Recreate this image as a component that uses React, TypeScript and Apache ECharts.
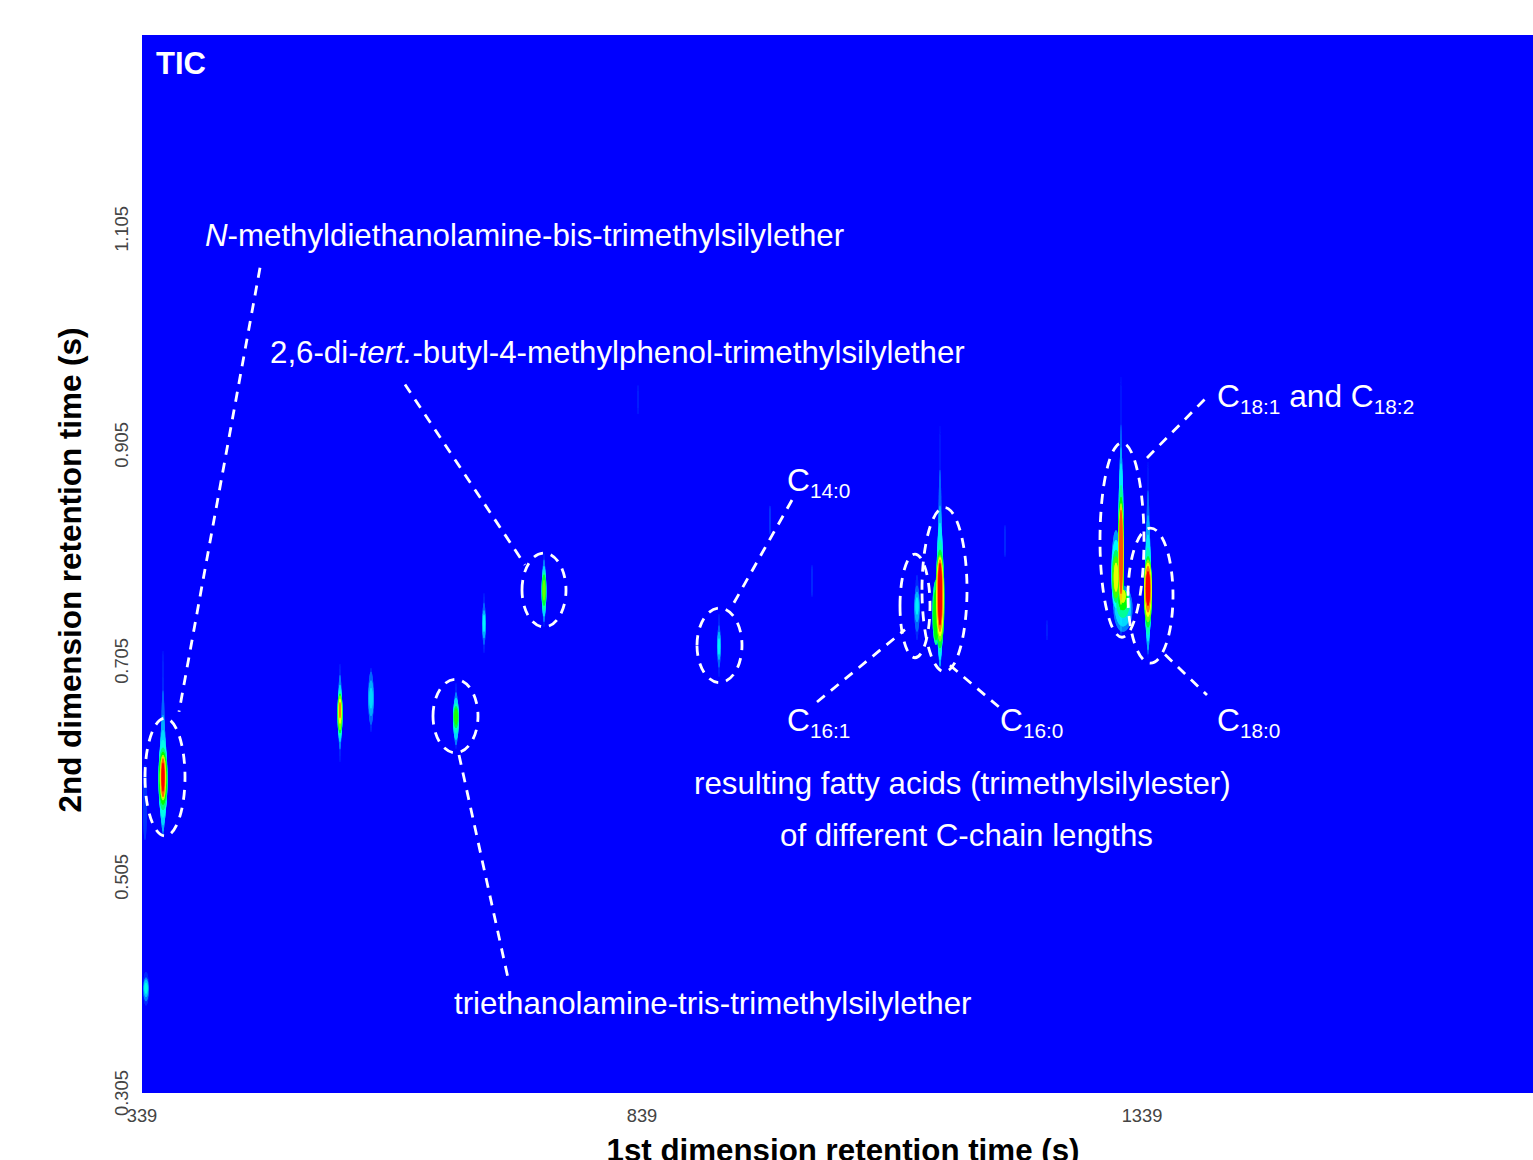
import React, { useEffect, useRef } from "react";
import * as echarts from "echarts";

// axis ticks
const xTicks = [339, 839, 1339];
const yTicks = [0.305, 0.505, 0.705, 0.905, 1.105];

// colour ramp of the intensity scale
const jetRamp = ["#0000ff", "#00a0ff", "#00ffff", "#00ff80", "#00ff00", "#a0ff00", "#ffff00", "#ff8000", "#ff0000"];

// intensity contours of each peak: [1st dim (s), 2nd dim top (s), 2nd dim bottom (s), half-width (s), level]
const peakNMethyl = [
  [360, 0.715, 0.542, 1, 0.03], [360, 0.678, 0.543, 2, 0.08], [360, 0.655, 0.547, 3, 0.14], [360, 0.641, 0.553, 4, 0.2],
  [360, 0.632, 0.56, 4.5, 0.27], [360, 0.625, 0.567, 4.5, 0.38], [360, 0.621, 0.572, 4, 0.5], [360, 0.618, 0.576, 3.2, 0.65],
  [360, 0.616, 0.578, 2.5, 0.78], [360, 0.615, 0.579, 2, 0.9], [360, 0.611, 0.584, 1.4, 1],
];
const peakB = [
  [537, 0.703, 0.611, 1, 0.03], [537, 0.692, 0.623, 1.8, 0.1], [537, 0.683, 0.63, 2.2, 0.2], [537, 0.678, 0.634, 2.6, 0.3],
  [537, 0.675, 0.638, 2.4, 0.45], [537, 0.673, 0.641, 1.9, 0.6], [537, 0.67, 0.647, 1.5, 0.75], [537, 0.667, 0.652, 1, 0.87],
];
const peakC = [
  [568, 0.699, 0.639, 1.5, 0.03], [568, 0.695, 0.646, 2.7, 0.08], [568, 0.687, 0.654, 2.6, 0.14], [568, 0.68, 0.661, 1.7, 0.2],
];
const peakTriethanolamine = [
  [653, 0.685, 0.623, 1, 0.03], [653, 0.676, 0.627, 2.2, 0.1], [653, 0.671, 0.632, 3, 0.2], [653, 0.666, 0.638, 3, 0.3],
  [653, 0.663, 0.643, 2.4, 0.42], [653, 0.661, 0.646, 1.7, 0.52],
];
const peakE = [
  [681, 0.768, 0.712, 1, 0.03], [681, 0.759, 0.72, 1.7, 0.08], [681, 0.752, 0.726, 1.7, 0.15], [681, 0.748, 0.732, 1.1, 0.24],
];
const peakBHT = [
  [741, 0.805, 0.736, 1, 0.03], [741, 0.799, 0.741, 1.8, 0.1], [741, 0.793, 0.746, 2.3, 0.2], [741, 0.788, 0.751, 2.4, 0.32],
  [741, 0.785, 0.756, 2, 0.45], [741, 0.78, 0.761, 1.4, 0.58],
];
const peakC140 = [
  [916, 0.749, 0.69, 1, 0.03], [916, 0.738, 0.699, 1.7, 0.08], [916, 0.732, 0.706, 1.7, 0.15], [916, 0.726, 0.711, 1.1, 0.23],
];
const peakC161 = [
  [1114, 0.785, 0.724, 2, 0.03], [1114, 0.775, 0.732, 2.7, 0.08], [1114, 0.769, 0.741, 2.4, 0.15], [1114, 0.764, 0.748, 1.5, 0.23],
];
const peakC160 = [
  [1137, 0.924, 0.701, 1, 0.02], [1137, 0.882, 0.699, 1.8, 0.08], [1137, 0.849, 0.7, 2.7, 0.14], [1137, 0.833, 0.706, 3.5, 0.22],
  [1137, 0.817, 0.713, 4, 0.32], [1137, 0.808, 0.717, 4.5, 0.45], [1137, 0.803, 0.723, 4, 0.6], [1137, 0.801, 0.728, 3.5, 0.75],
  [1137, 0.799, 0.732, 2.8, 0.87], [1137, 0.796, 0.738, 2, 1], [1133, 0.78, 0.72, 3.6, 0.35], [1133, 0.771, 0.724, 2.7, 0.5],
];
const peakC181 = [
  [1318, 0.97, 0.729, 1, 0.02], [1318, 0.924, 0.729, 1.4, 0.08], [1318, 0.903, 0.732, 2.2, 0.14], [1318, 0.888, 0.738, 2.8, 0.22],
  [1318, 0.868, 0.748, 3, 0.35], [1318, 0.857, 0.752, 3, 0.5], [1318, 0.851, 0.757, 2.6, 0.65], [1318, 0.848, 0.761, 2.2, 0.8],
  [1318, 0.845, 0.767, 1.8, 0.92],
];
const peakC182 = [
  [1313, 0.826, 0.748, 4.5, 0.12], [1313, 0.817, 0.754, 4.5, 0.25], [1313, 0.808, 0.759, 4, 0.4], [1313, 0.802, 0.763, 3.6, 0.55],
  [1313, 0.796, 0.769, 2.2, 0.72], [1320, 0.775, 0.732, 9.5, 0.1], [1320, 0.771, 0.737, 8, 0.2], [1320, 0.771, 0.745, 6.5, 0.35],
  [1320, 0.771, 0.752, 4.5, 0.5], [1320, 0.771, 0.759, 2.7, 0.7],
];
const peakC180 = [
  [1345, 0.891, 0.706, 1, 0.02], [1345, 0.863, 0.711, 1.8, 0.08], [1345, 0.84, 0.715, 2.7, 0.14], [1345, 0.822, 0.723, 3.3, 0.22],
  [1345, 0.81, 0.729, 3.6, 0.32], [1345, 0.802, 0.736, 4, 0.45], [1345, 0.799, 0.741, 3.9, 0.6], [1345, 0.796, 0.746, 3.4, 0.75],
  [1345, 0.793, 0.75, 2.8, 0.87], [1345, 0.788, 0.756, 2.1, 1],
];
const peakEdge = [
  [342, 0.609, 0.539, 2, 0.04], [343, 0.417, 0.386, 3, 0.03], [343, 0.412, 0.39, 2.7, 0.1], [343, 0.41, 0.394, 2.2, 0.18],
  [343, 0.407, 0.397, 1.5, 0.27],
];
const peakFaint = [
  [835, 0.961, 0.933, 1, 0.02], [967, 0.849, 0.822, 1, 0.04], [1009, 0.794, 0.764, 1, 0.03], [1202, 0.831, 0.801, 1, 0.03],
  [1244, 0.743, 0.724, 1, 0.02],
];

// dashed ellipses: [1st dim min, 1st dim max, 2nd dim max, 2nd dim min]
const circledPeaks = [
  [342, 382, 0.652, 0.543], [630, 675, 0.688, 0.62], [719, 763, 0.805, 0.7365], [894, 939, 0.754, 0.685],
  [1097, 1127, 0.804, 0.708], [1119, 1164, 0.847, 0.695], [1297, 1341, 0.907, 0.727], [1325, 1370, 0.828, 0.703],
];
// dashed leader lines: [x1, y1, x2, y2]
const leaders = [
  [457, 1.069, 376, 0.658], [602, 0.961, 722, 0.794], [656, 0.618, 705, 0.4115], [989, 0.854, 928, 0.754],
  [1014, 0.667, 1102, 0.734], [1147, 0.701, 1199, 0.66], [1344, 0.893, 1403, 0.9485], [1362, 0.711, 1404, 0.6735],
];

const contours = [
  ...peakNMethyl, ...peakB, ...peakC, ...peakTriethanolamine, ...peakE, ...peakBHT, ...peakC140, ...peakC161,
  ...peakC160, ...peakC181, ...peakC182, ...peakC180, ...peakEdge, ...peakFaint,
].sort((a, b) => a[4] - b[4]);

const FONT = '"Liberation Sans", Arial, sans-serif';
const white = "#ffffff";
const base = { fontFamily: FONT, fontSize: 31.25, fill: white };
const richBase = {
  c: { fontFamily: FONT, fontSize: 31.7, color: white, lineHeight: 37, verticalAlign: "top" },
  s: { fontFamily: FONT, fontSize: 20.8, color: white, lineHeight: 21, verticalAlign: "bottom" },
};
const italics = {
  r: { fontFamily: FONT, fontSize: 31.25, color: white },
  i: { fontFamily: FONT, fontSize: 31.25, fontStyle: "italic", color: white },
};

const plain = (text: string, x: number, y: number) => ({
  type: "text", x, y, silent: true, z: 20,
  style: { ...base, text, verticalAlign: "middle" },
});
const rich = (text: string, x: number, y: number, styles: any) => ({
  type: "text", x, y, silent: true, z: 20,
  style: { text, rich: styles, fill: white, verticalAlign: "middle" },
});

export default function App() {
  const ref = useRef<HTMLDivElement>(null);
  useEffect(() => {
    const chart = echarts.init(ref.current!, undefined, { renderer: "svg" });
    chart.setOption({
      animation: false,
      backgroundColor: "#ffffff",
      grid: { left: 142, top: 35, width: 1402, height: 1058, show: true, backgroundColor: "#0000ff", borderWidth: 0, outerBoundsMode: "none" },
      xAxis: {
        type: "value", min: 339, max: 1741,
        name: "1st dimension retention time (s)", nameLocation: "middle", nameGap: 42,
        nameTextStyle: { fontFamily: FONT, fontWeight: "bold", fontSize: 31.3, color: "#000" },
        axisLine: { show: false }, axisTick: { show: false }, splitLine: { show: false },
        axisLabel: { customValues: xTicks, fontFamily: FONT, fontSize: 18.3, color: "#444", margin: 13, hideOverlap: false,
          formatter: (v: number) => String(v) },
      },
      yAxis: {
        type: "value", min: 0.305, max: 1.2846,
        name: "2nd dimension retention time (s)", nameLocation: "middle", nameGap: 56,
        nameTextStyle: { fontFamily: FONT, fontWeight: "bold", fontSize: 31.4, color: "#000", padding: [0, 12, 0, 0] },
        axisLine: { show: false }, axisTick: { show: false }, splitLine: { show: false },
        axisLabel: { customValues: yTicks, rotate: 90, fontFamily: FONT, fontSize: 18.3, color: "#444", margin: 12,
          formatter: (v: number) => v.toFixed(3), hideOverlap: false },
      },
      series: [
        {
          type: "custom", silent: true, clip: true, z: 2,
          data: contours,
          dimensions: ["x", "yTop", "yBottom", "half", "level"],
          encode: { x: 0, y: [1, 2] },
          renderItem: (_: any, api: any) => {
            const x = api.value(0);
            const top = api.coord([x, api.value(1)]);
            const bot = api.coord([x, api.value(2)]);
            const rx = api.size([api.value(3), 0])[0];
            const fill = echarts.color.lerp(api.value(4), jetRamp);
            return {
              type: "ellipse",
              shape: { cx: top[0], cy: (top[1] + bot[1]) / 2, rx, ry: (bot[1] - top[1]) / 2 },
              style: { fill, shadowBlur: 1.5, shadowColor: fill },
            };
          },
        },
        {
          type: "custom", silent: true, clip: true, z: 5,
          data: circledPeaks,
          encode: { x: [0, 1], y: [2, 3] },
          renderItem: (_: any, api: any) => {
            const a = api.coord([api.value(0), api.value(2)]);
            const b = api.coord([api.value(1), api.value(3)]);
            return {
              type: "ellipse",
              shape: { cx: (a[0] + b[0]) / 2, cy: (a[1] + b[1]) / 2, rx: (b[0] - a[0]) / 2, ry: (b[1] - a[1]) / 2 },
              style: { fill: "none", stroke: white, lineWidth: 2.8, lineDash: [10, 8] },
            };
          },
        },
        {
          type: "custom", silent: true, clip: true, z: 5,
          data: leaders,
          encode: { x: [0, 2], y: [1, 3] },
          renderItem: (_: any, api: any) => {
            const a = api.coord([api.value(0), api.value(1)]);
            const b = api.coord([api.value(2), api.value(3)]);
            return {
              type: "line",
              shape: { x1: a[0], y1: a[1], x2: b[0], y2: b[1] },
              style: { stroke: white, lineWidth: 2.8, lineDash: [10, 8] },
            };
          },
        },
      ],
      graphic: [
        { type: "text", x: 156, y: 63, silent: true, z: 20,
          style: { text: "TIC", fontFamily: FONT, fontSize: 31, fontWeight: "bold", fill: white, verticalAlign: "middle" } },
        rich("{i|N}{r|-methyldiethanolamine-bis-trimethylsilylether}", 205, 235, italics),
        rich("{r|2,6-di-}{i|tert.}{r|-butyl-4-methylphenol-trimethylsilylether}", 270, 352, italics),
        plain("triethanolamine-tris-trimethylsilylether", 454, 1003),
        plain("resulting fatty acids (trimethylsilylester)", 694, 783),
        plain("of different C-chain lengths", 780, 835),
        rich("{c|C}{s|14:0}", 787, 482, richBase),
        rich("{c|C}{s|16:1}", 787, 722, richBase),
        rich("{c|C}{s|16:0}", 1000, 722, richBase),
        rich("{c|C}{s|18:0}", 1217, 722, richBase),
        rich("{c|C}{s|18:1}{c| and C}{s|18:2}", 1217, 398, richBase),
      ],
    });
    return () => chart.dispose();
  }, []);
  return <div ref={ref} style={{ position: "fixed", left: 0, top: 0, width: 1533, height: 1160 }} />;
}
